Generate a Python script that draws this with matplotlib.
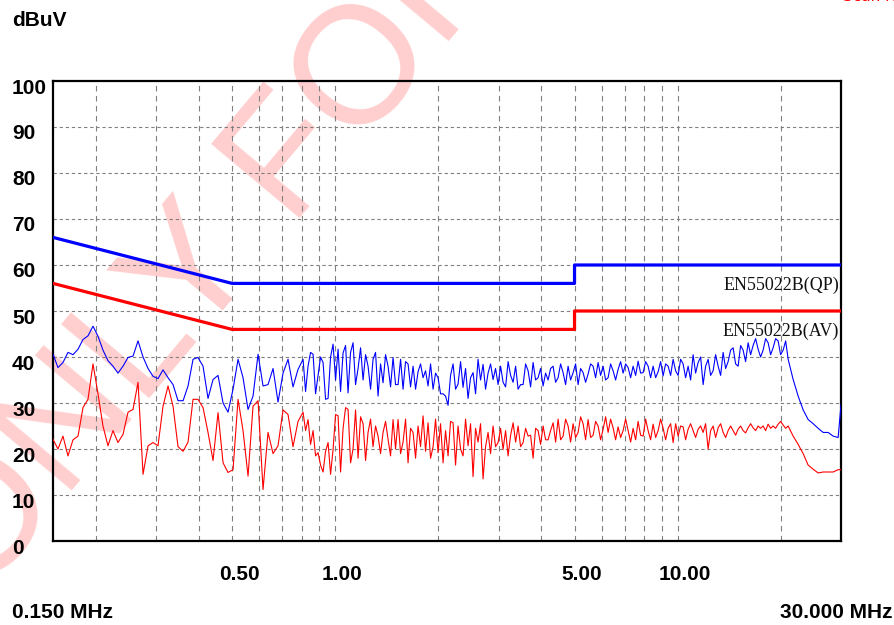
import matplotlib
matplotlib.use('Agg')
import matplotlib.pyplot as plt
import matplotlib.transforms as mtransforms

# frequencias da varredura (MHz)
freq = [0.150, 0.1551, 0.1604, 0.1659, 0.1716, 0.1775, 0.1835, 0.1898, 0.1963, 0.2030,
        0.2099, 0.2171, 0.2245, 0.2322, 0.2402, 0.2484, 0.2569, 0.2657, 0.2748, 0.2842,
        0.2939, 0.3039, 0.3143, 0.3251, 0.3362, 0.3477, 0.3597, 0.3719, 0.3846, 0.3977,
        0.4113, 0.4254, 0.4400, 0.4550, 0.4706, 0.4866, 0.5033, 0.5205, 0.5383, 0.5567,
        0.5757, 0.5955, 0.6158, 0.6368, 0.6586, 0.6811, 0.7044, 0.7285, 0.7533, 0.7791,
        0.8059, 0.8196, 0.8334, 0.8475, 0.8620, 0.8766, 0.8915, 0.9066, 0.9220, 0.9376,
        0.9535, 0.9697, 0.9861, 1.0028, 1.0198, 1.0371, 1.0547, 1.0726, 1.0907, 1.1092,
        1.1279, 1.1470, 1.1666, 1.1864, 1.2065, 1.2270, 1.2476, 1.2688, 1.2902, 1.3121,
        1.3344, 1.3570, 1.3800, 1.4034, 1.4272, 1.4514, 1.4760, 1.5010, 1.5266, 1.5525,
        1.5786, 1.6054, 1.6326, 1.6603, 1.6886, 1.7172, 1.7462, 1.7758, 1.8059, 1.8365,
        1.8677, 1.8994, 1.9316, 1.9644, 1.9974, 2.0313, 2.0658, 2.1008, 2.1365, 2.1727,
        2.2095, 2.2470, 2.2850, 2.3238, 2.3630, 2.4031, 2.4440, 2.4854, 2.5275, 2.5704,
        2.6141, 2.6584, 2.7035, 2.7493, 2.7959, 2.8433, 2.8914, 2.9404, 2.9910, 3.0417,
        3.0930, 3.1455, 3.1991, 3.2534, 3.3086, 3.3647, 3.4215, 3.4795, 3.5387, 3.5987,
        3.6593, 3.7214, 3.7844, 3.8486, 3.9137, 3.9801, 4.0478, 4.1165, 4.1861, 4.2571,
        4.3293, 4.4027, 4.4774, 4.5533, 4.6302, 4.7087, 4.7888, 4.8700, 4.9524, 5.0364,
        5.1219, 5.2088, 5.2970, 5.3868, 5.4780, 5.5709, 5.6655, 5.7616, 5.8593, 5.9587,
        6.0596, 6.1624, 6.2670, 6.3733, 6.4811, 6.5910, 6.7028, 6.8165, 6.9323, 7.0499,
        7.1693, 7.2909, 7.4147, 7.5405, 7.6679, 7.7980, 7.9301, 8.0646, 8.2013, 8.3404,
        8.4819, 8.6258, 8.7720, 8.9208, 9.0719, 9.2258, 9.3822, 9.5413, 9.7031, 9.8677,
        10.035, 10.205, 10.377, 10.553, 10.732, 10.914, 11.099, 11.287, 11.479, 11.674,
        11.871, 12.072, 12.278, 12.486, 12.697, 12.912, 13.132, 13.355, 13.581, 13.811,
        14.045, 14.283, 14.524, 14.770, 15.021, 15.276, 15.534, 15.797, 16.065, 16.338,
        16.614, 16.896, 17.183, 17.474, 17.771, 18.072, 18.378, 18.690, 19.005, 19.327,
        19.656, 19.989, 20.334, 20.679,
        21.029, 21.749, 22.491, 23.259, 24.054, 24.876, 25.727, 26.606, 27.516, 28.455,
        29.429, 30.0]

# nivel de pico (azul) em dBuV
nivel_pk = [40.6, 37.7, 38.8, 41.0, 40.5, 41.7, 43.8, 44.6, 46.7, 44.5,
            41.5, 39.2, 38.0, 36.5, 38.0, 39.9, 40.2, 43.5, 40.0, 37.5,
            35.8, 35.3, 37.2, 35.5, 34.0, 30.5, 30.5, 33.7, 39.5, 39.9,
            38.0, 31.0, 35.1, 36.0, 30.0, 28.0, 33.0, 39.5, 35.5, 28.6,
            31.5, 40.6, 33.7, 34.0, 37.5, 30.2, 36.5, 39.5, 33.5, 37.3,
            39.5, 32.5, 38.0, 41.0, 40.6, 32.0, 36.0, 40.0, 38.8, 30.8,
            31.0, 40.0, 42.8, 35.0, 41.7, 32.5, 40.9, 42.5, 32.2, 41.0,
            43.1, 34.0, 37.5, 42.0, 35.0, 40.5, 38.0, 33.0, 39.5, 41.0,
            31.5, 38.5, 34.4, 40.5, 38.0, 33.5, 39.9, 34.0, 34.0, 39.5,
            33.0, 39.0, 38.5, 33.5, 38.0, 33.0, 36.8, 38.5, 35.5, 37.0,
            33.7, 38.5, 33.0, 36.5, 35.5, 32.0, 32.0, 31.5, 29.5, 36.0,
            38.5, 33.0, 34.1, 39.0, 33.4, 37.5, 31.0, 35.5, 36.6, 32.0,
            39.5, 35.0, 38.4, 33.0, 36.5, 38.5, 35.1, 37.5, 34.0, 38.0,
            34.5, 33.5, 39.0, 36.0, 34.5, 38.0, 33.0, 34.0, 34.0, 38.5,
            37.0, 33.5, 38.8, 35.0, 35.5, 37.5, 33.7, 36.5, 35.0, 37.5,
            38.0, 34.5, 35.5, 38.5, 36.6, 34.0, 38.0, 35.0, 36.6, 38.5,
            34.0, 37.5, 36.6, 34.5, 36.3, 38.5, 38.0, 35.5, 38.8, 36.0,
            38.0, 35.0, 35.5, 38.5, 37.0, 35.0, 37.3, 39.0, 36.5, 38.5,
            37.7, 35.5, 38.0, 36.0, 39.1, 36.5, 36.6, 39.0, 38.0, 35.5,
            38.0, 35.5, 36.8, 39.0, 35.9, 38.5, 38.0, 36.0, 39.5, 37.0,
            36.0, 39.5, 38.5, 35.5, 38.0, 35.0, 40.5, 36.5, 38.8, 40.0,
            34.0, 38.0, 39.5, 36.0, 37.0, 40.5, 38.0, 36.0, 41.0, 37.5,
            39.0, 41.5, 42.0, 38.5, 38.0, 42.5, 41.5, 39.0, 43.1, 40.5,
            42.5, 44.0, 41.7, 40.0, 41.5, 44.0, 43.1, 40.5, 42.0, 44.0,
            43.5, 40.5, 41.5, 43.5,
            39.5, 35.1, 31.5, 28.5, 26.4, 25.5, 24.5, 23.6, 23.6, 22.8,
            22.5, 29.6]

# nivel medio (vermelho) em dBuV
nivel_av = [22.1, 20.0, 22.8, 18.5, 22.0, 22.8, 29.0, 30.8, 38.5, 32.0,
            25.0, 20.7, 24.0, 21.4, 23.2, 28.0, 28.6, 34.5, 14.5, 20.7,
            21.4, 20.7, 29.3, 33.7, 29.3, 20.5, 19.5, 21.5, 30.8, 30.8,
            29.0, 23.6, 17.5, 27.9, 17.0, 14.9, 15.5, 30.8, 24.0, 14.1,
            29.3, 30.5, 11.2, 23.6, 19.0, 20.7, 28.5, 27.5, 20.5, 26.0,
            28.0, 24.0, 26.4, 21.0, 24.0, 18.5, 19.2, 16.5, 15.0, 19.5,
            21.4, 14.5, 19.9, 27.5, 27.2, 15.0, 24.5, 29.0, 28.6, 17.0,
            20.0, 28.5, 18.0, 27.0, 25.5, 17.5, 23.6, 26.5, 20.5, 25.0,
            22.8, 19.0, 23.6, 26.0, 22.1, 18.5, 26.4, 20.0, 26.4, 19.0,
            21.5, 26.5, 17.0, 24.5, 23.6, 18.0, 25.0, 20.5, 27.2, 19.5,
            25.7, 18.0, 20.5, 26.5, 19.2, 25.5, 17.0, 24.0, 18.5, 26.0,
            25.7, 16.5, 25.0, 20.0, 18.5, 26.5, 20.7, 25.5, 14.0, 24.5,
            21.5, 25.5, 13.5, 20.5, 23.6, 19.0, 25.0, 20.5, 21.4, 24.5,
            19.9, 24.0, 18.5, 23.0, 25.7, 21.5, 25.0, 20.5, 21.4, 24.5,
            22.8, 23.0, 18.0, 24.5, 24.0, 21.0, 25.0, 22.0, 22.0, 24.0,
            25.7, 21.5, 26.5, 22.0, 22.8, 26.5, 25.0, 21.5, 25.5, 22.5,
            23.6, 27.0, 25.5, 22.0, 26.4, 22.5, 23.0, 26.0, 25.0, 22.0,
            24.3, 27.0, 23.6, 26.5, 24.6, 22.0, 24.8, 22.5, 24.0, 26.5,
            24.0, 21.5, 24.5, 22.0, 26.0, 23.0, 22.8, 26.5, 24.0, 22.0,
            25.4, 22.5, 24.0, 26.5, 24.5, 22.0, 24.5, 25.5, 21.4, 25.5,
            22.8, 25.0, 24.8, 22.0, 24.3, 25.5, 24.0, 22.5, 24.3, 25.0,
            23.6, 25.5, 20.0, 24.0, 25.0, 22.5, 24.6, 25.5, 23.6, 22.5,
            24.0, 25.0, 24.0, 23.0, 24.3, 25.0, 24.0, 23.5, 24.6, 25.5,
            24.6, 24.0, 25.0, 24.5, 25.0, 24.0, 25.4, 24.5, 25.0, 24.5,
            25.4, 26.0, 25.2, 24.5,
            25.0, 22.8, 21.0, 19.0, 16.5, 15.6, 14.8, 15.0, 15.0, 15.0,
            15.5, 15.5]

# limites EN55022 classe B
lim_freq = [0.15, 0.5, 5.0, 5.0, 30.0]
lim_qp = [66, 56, 56, 60, 60]
lim_av = [56, 46, 46, 50, 50]

grade_x = [0.2, 0.3, 0.4, 0.5, 0.6, 0.7, 0.8, 0.9, 1, 2, 3, 4, 5, 6, 7, 8, 9, 10, 20]
ticks_x = [0.5, 1.0, 5.0, 10.0]
rotulos_x = ['0.50', '1.00', '5.00', '10.00']
ticks_y = [0, 10, 20, 30, 40, 50, 60, 70, 80, 90, 100]

fonte = 'Liberation Sans'
tam = 15

fig = plt.figure(figsize=(8.95, 6.25), dpi=100)
ax = fig.add_axes([53/895, 84/625, 788/895, 460/625])
ax.patch.set_alpha(0)

# marca d'agua
fig.text(-20/895, 1 - 600/625, 'ONLY FOR', fontsize=120, rotation=50, color='#ffcfcf',
         ha='left', va='baseline', rotation_mode='anchor', family='Liberation Sans',
         zorder=-5)

for g in grade_x:
    ax.axvline(g, color='#808080', lw=0.8, ls=(0, (5, 4)), zorder=1)
for g in ticks_y[1:-1]:
    ax.axhline(g, color='#808080', lw=0.8, ls=(0, (3, 2.5)), zorder=1)

ax.plot(lim_freq, lim_qp, color='#0000ff', lw=2.3, zorder=3)
ax.plot(lim_freq, lim_av, color='#ff0000', lw=2.3, zorder=3)
ax.plot(freq, nivel_pk, color='#0000ff', lw=0.8, zorder=4)
ax.plot(freq, nivel_av, color='#ff0000', lw=0.8, zorder=4)

ax.text(29.6, 57.5, 'EN55022B(QP)', ha='right', va='top', fontsize=13,
        family='Liberation Serif', color='#111111', zorder=5)
ax.text(29.6, 47.5, 'EN55022B(AV)', ha='right', va='top', fontsize=13,
        family='Liberation Serif', color='#111111', zorder=5)

ax.set_xscale('log')
ax.set_xlim(0.15, 30)
ax.set_ylim(0, 100)
ax.minorticks_off()
ax.set_xticks(ticks_x)
ax.set_xticklabels(rotulos_x, family=fonte, fontsize=tam, fontweight='bold')
ax.set_yticks(ticks_y)
ax.set_yticklabels([str(v) for v in ticks_y], family=fonte, fontsize=tam, fontweight='bold',
                   ha='left')
ax.tick_params(axis='both', length=0)
ax.tick_params(axis='y', pad=29.5)
ax.tick_params(axis='x', pad=17)
desl_y = mtransforms.ScaledTranslation(0, -5/100, fig.dpi_scale_trans)
for lbl in ax.get_yticklabels():
    lbl.set_transform(lbl.get_transform() + desl_y)
desl_x = mtransforms.ScaledTranslation(7/100, 0, fig.dpi_scale_trans)
for lbl in ax.get_xticklabels():
    lbl.set_transform(lbl.get_transform() + desl_x)

for s in ax.spines.values():
    s.set_linewidth(1.6)
    s.set_color('black')

fig.text(12/895, 1 - 20/625, 'dBuV', family=fonte, fontsize=tam, fontweight='bold',
         va='center', ha='left')
fig.text(12/895, 1 - 612/625, '0.150 MHz', family=fonte, fontsize=tam, fontweight='bold',
         va='center', ha='left')
fig.text(893/895, 1 - 612/625, '30.000 MHz', family=fonte, fontsize=tam, fontweight='bold',
         va='center', ha='right')
fig.text(843/895, 1 - 4/625, 'Scan Range', color='#ff0000', fontsize=11,
         va='bottom', ha='left')

fig.savefig('out.png', dpi=100)
